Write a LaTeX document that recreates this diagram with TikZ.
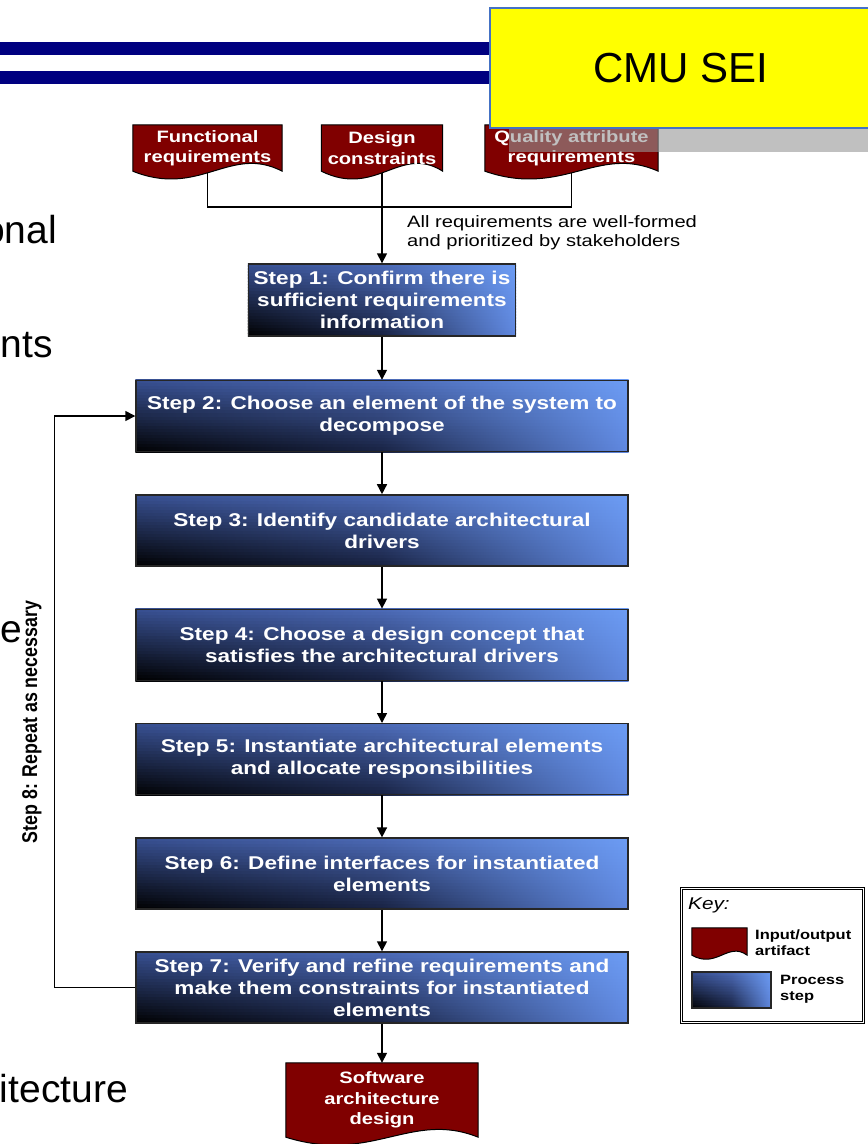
\documentclass[tikz,border=0pt]{standalone}
\usepackage{fontspec}
\setmainfont{Liberation Sans}
\newfontfamily\diagfont[FakeStretch=1.22]{Liberation Sans}
\usetikzlibrary{arrows.meta,calc}
\pgfdeclarelayer{paper}
\pgfdeclarelayer{wires}
\pgfdeclarelayer{shapes}
\pgfsetlayers{paper,wires,shapes,main}

\definecolor{artifactred}{RGB}{128,0,0}
\definecolor{barnavy}{RGB}{0,0,128}
\definecolor{notebox}{RGB}{255,255,0}
\definecolor{noteedge}{RGB}{68,114,196}
\definecolor{noteshadow}{RGB}{150,150,150}
% process-step fill: corner colours of the gradient
\definecolor{stepBL}{RGB}{0,0,0}
\definecolor{stepBM}{RGB}{24,34,66}
\definecolor{stepBR}{RGB}{96,136,224}
\definecolor{stepTL}{RGB}{56,80,146}
\definecolor{stepTM}{RGB}{76,106,182}
\definecolor{stepTR}{RGB}{108,156,244}

% document shape with a wavy lower edge, drawn round a node
\newcommand\artifactat[2]{%
  \filldraw[artifactshape] (#1.north west) -- (#1.north east) -- (#1.south east)
    .. controls ($(#1.south east)!0.35!(#1.south west)+(0,-#2)$)
       and ($(#1.south west)!0.45!(#1.south east)+(0,#2)$) .. (#1.south west) -- cycle;}

% gradient fill of a process step, built from thin horizontal strips
\newcommand\stepfill[1]{%
  \foreach \k in {0,...,23}{%
    \pgfmathtruncatemacro\pc{round(100*(\k+0.5)/24)}%
    \shade[left color=stepTL!\pc!stepBL, right color=stepTR!\pc!stepBR,
           middle color=stepTM!\pc!stepBM]
      ($(#1.south west)!{\k/24}!(#1.north west)$) rectangle
      ($(#1.south east)!{min(1,(\k+1.2)/24)}!(#1.north east)$);
  }}

\tikzset{
  artifactshape/.style={fill=artifactred, draw=black, line width=1pt},
  doctext/.style={inner sep=0pt, align=center, text=white,
    font=\diagfont\bfseries\fontsize{16.5}{20.5}\selectfont},
  stepbox/.style={draw=black!85, line width=1.4pt,
    inner sep=0pt, align=center, text=white,
    font=\diagfont\bfseries\fontsize{18.5}{22}\selectfont},
  wire/.style={draw=black, line width=1.5pt},
  flow/.style={draw=black, line width=1.5pt, -{Triangle[length=10pt,width=10pt]}},
  slidetext/.style={inner sep=0pt, font=\fontsize{39}{46}\selectfont},
  keytext/.style={inner sep=0pt, align=left,
    font=\diagfont\bfseries\fontsize{13.5}{16}\selectfont},
}

\begin{document}
\begin{tikzpicture}[x=1pt,y=-1pt]
\useasboundingbox (0,0) rectangle (868,1144);
\clip (0,0) rectangle (868,1144);
\begin{pgfonlayer}{paper}
  \fill[white] (0,0) rectangle (868,1144);
\end{pgfonlayer}

% ends of the slide's bullet text
\node[slidetext, anchor=base east] (frag1) at (57,243) {onal};
\node[slidetext, anchor=base east] (frag2) at (53,357) {nts};
\node[slidetext, anchor=base east] (frag3) at (22,642) {e};
\node[slidetext, anchor=base east] (frag4) at (128,1102) {itecture};

% title bars
\fill[barnavy] (0,42) rectangle (500,55);
\fill[barnavy] (0,71) rectangle (500,84);

% input artifacts
\node[doctext, minimum width=149pt, minimum height=46pt] (fr) at (207.5,148) {Functional\\requirements};
\node[doctext, minimum width=121pt, minimum height=46pt] (dc) at (382,148) {Design\\constraints};
\node[doctext, minimum width=173pt, minimum height=46pt] (qa) at (571.5,148) {Quality attribute\\requirements};
\begin{pgfonlayer}{shapes}
  \artifactat{fr}{27}
  \artifactat{dc}{27}
  \artifactat{qa}{27}
\end{pgfonlayer}

\coordinate (jn) at (382,207);
\begin{pgfonlayer}{wires}
  \draw[wire] (fr.south) -- (fr.south |- jn) -- (qa.south |- jn) -- (qa.south);
  \draw[wire] (dc.south) -- (jn);
\end{pgfonlayer}

\node[inner sep=0pt, anchor=west, align=left, font=\diagfont\fontsize{16.5}{19}\selectfont]
  (note) at (407,232.5) {All requirements are well-formed\\and prioritized by stakeholders};

% process steps
\node[stepbox, minimum width=267pt, minimum height=72pt] (s1) at (382,300)
  {Step 1: Confirm there is\\sufficient requirements\\information};
\node[stepbox, minimum width=492pt, minimum height=71pt] (s2) at (382,416)
  {Step 2: Choose an element of the system to\\decompose};
\node[stepbox, minimum width=492pt, minimum height=71pt] (s3) at (382,530.4)
  {Step 3: Identify candidate architectural\\drivers};
\node[stepbox, minimum width=492pt, minimum height=71pt] (s4) at (382,644.8)
  {Step 4: Choose a design concept that\\satisfies the architectural drivers};
\node[stepbox, minimum width=492pt, minimum height=71pt] (s5) at (382,759.2)
  {Step 5: Instantiate architectural elements\\and allocate responsibilities};
\node[stepbox, minimum width=492pt, minimum height=71pt] (s6) at (382,873.6)
  {Step 6: Define interfaces for instantiated\\elements};
\node[stepbox, minimum width=492pt, minimum height=71pt] (s7) at (382,987.5)
  {Step 7: Verify and refine requirements and\\make them constraints for instantiated\\elements};
\begin{pgfonlayer}{shapes}
  \stepfill{s1}\stepfill{s2}\stepfill{s3}\stepfill{s4}
  \stepfill{s5}\stepfill{s6}\stepfill{s7}
\end{pgfonlayer}

% output artifact
\node[doctext, minimum width=192pt, minimum height=74pt] (sad) at (382,1100)
  {Software\\architecture\\design};
\begin{pgfonlayer}{shapes}
  \artifactat{sad}{27}
\end{pgfonlayer}

% flow
\draw[flow] (jn) -- (s1.north);
\draw[flow] (s1) -- (s2);
\draw[flow] (s2) -- (s3);
\draw[flow] (s3) -- (s4);
\draw[flow] (s4) -- (s5);
\draw[flow] (s5) -- (s6);
\draw[flow] (s6) -- (s7);
\draw[flow] (s7) -- (sad);
\draw[flow] (s7.west) -- ++(-81,0) |- (s2.west);

\node[rotate=90, inner sep=0pt] (repeat) at (32,722)
  {\scalebox{1}[1.2]{\bfseries\fontsize{17.8}{20}\selectfont Step 8: Repeat as necessary}};

% key
\node[draw=black, line width=0.8pt, double, double distance=1.4pt,
  minimum width=182pt, minimum height=134pt, inner sep=0pt] (key) at (772.5,955.5) {};
\node[inner sep=0pt, anchor=west, font=\diagfont\itshape\fontsize{17}{20}\selectfont]
  (keytitle) at (688,905) {Key:};
\node[inner sep=0pt, minimum width=55pt, minimum height=27pt] (keydoc) at (719.5,941.5) {};
\begin{pgfonlayer}{shapes}
  \artifactat{keydoc}{14}
\end{pgfonlayer}
\node[keytext, anchor=west] (keydoctext) at (755,943) {Input/output\\artifact};
\node[draw=black!85, line width=1.4pt, minimum width=79pt,
  minimum height=36pt, inner sep=0pt] (keystep) at (731.5,990) {};
\begin{pgfonlayer}{shapes}
  \stepfill{keystep}
\end{pgfonlayer}
\node[keytext, anchor=west] (keysteptext) at (780,989) {Process\\step};

% label box of the slide
\fill[noteshadow, opacity=0.6] (509,32) rectangle (891,152);
\node[fill=notebox, draw=noteedge, line width=1.2pt, minimum width=382pt,
  minimum height=120pt, inner sep=0pt, font=\fontsize{42}{48}\selectfont]
  (cmu) at (681,68) {CMU SEI};
\end{tikzpicture}
\end{document}
